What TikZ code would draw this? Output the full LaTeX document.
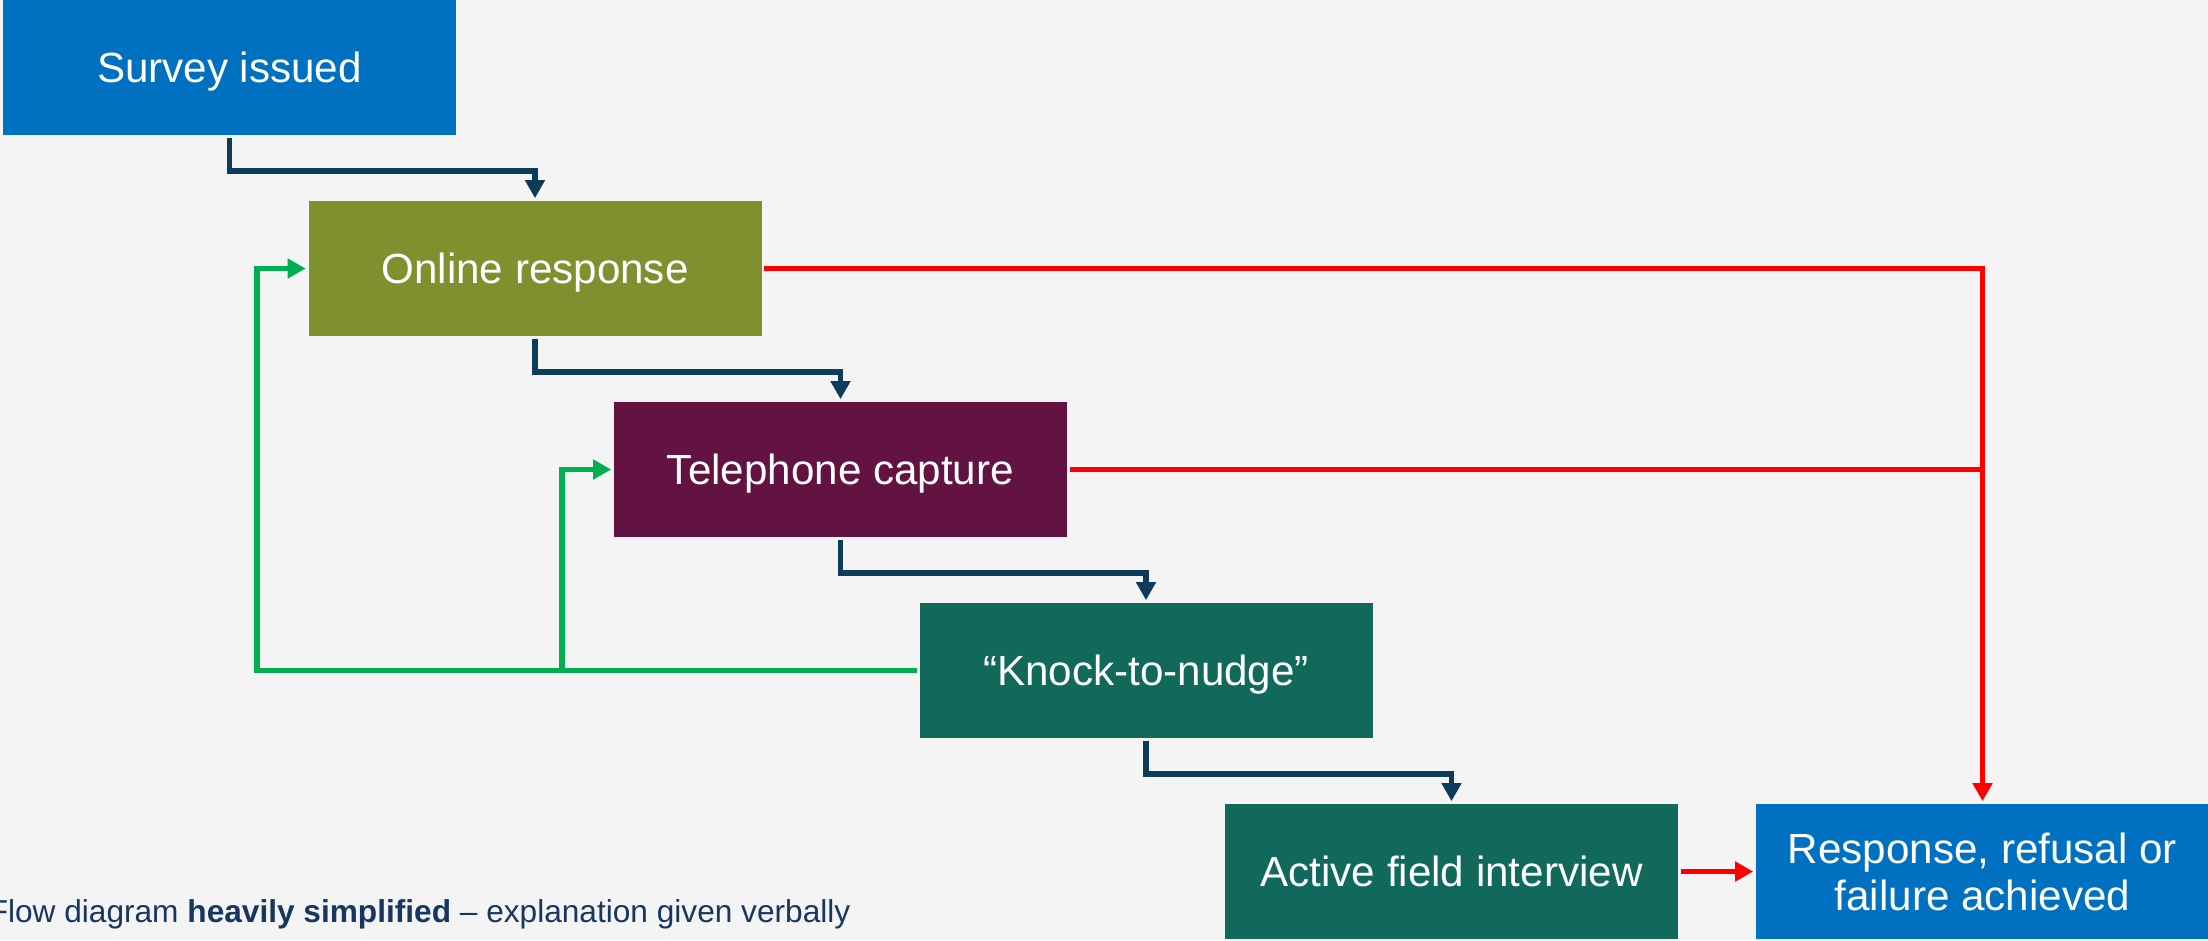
\documentclass[tikz,border=0pt]{standalone}
\usepackage{fontspec}
\setmainfont{Liberation Sans}
\usetikzlibrary{positioning,arrows.meta}
\definecolor{bgcol}{HTML}{F4F4F4}
\definecolor{bluebox}{HTML}{0070C0}
\definecolor{olivebox}{HTML}{7F902F}
\definecolor{plumbox}{HTML}{621341}
\definecolor{tealbox}{HTML}{10695A}
\definecolor{navyline}{HTML}{0F3B5A}
\definecolor{greenline}{HTML}{00B050}
\definecolor{redline}{HTML}{FF0000}
\definecolor{notecol}{HTML}{17375E}

\begin{document}
\begin{tikzpicture}[>={Triangle[length=1.8mm,width=1.9mm]}, line width=1.6pt, node distance=2.01cm and 3.055cm, on grid,
  box/.style={rectangle, minimum width=4.53cm, minimum height=1.35cm, inner sep=0pt, align=center, text depth=0pt, text=white, font=\fontsize{12}{13.5}\selectfont},
  step line/.style={->, draw=navyline},
  back line/.style={->, draw=greenline},
  end line/.style={draw=redline}]

    \useasboundingbox (0,0) rectangle (22.08,9.40);
    \fill[bgcol] (0,0) rectangle (22.08,9.40);

    \node[box, fill=bluebox] (survey) at (2.295,8.725) {Survey issued};
    \node[box, fill=olivebox] (online) [below right=of survey] {Online response};
    \node[box, fill=plumbox] (phone) [below right=of online] {Telephone capture};
    \node[box, fill=tealbox] (knock) [below right=of phone] {``Knock-to-nudge''};
    \node[box, fill=tealbox] (field) [below right=of knock] {Active field interview};
    \node[box, fill=bluebox] (result) [right=5.31cm of field] {Response, refusal or\\failure achieved};

    \node[anchor=base west, inner sep=0pt, text=notecol, font=\fontsize{9}{11}\selectfont] (note) at (-0.14,0.18) {Flow diagram \textbf{heavily simplified} -- explanation given verbally};

    \draw[step line] (survey.south) -- ++(0,-0.33) -| (online.north);
    \draw[step line] (online.south) -- ++(0,-0.33) -| (phone.north);
    \draw[step line] (phone.south) -- ++(0,-0.33) -| (knock.north);
    \draw[step line] (knock.south) -- ++(0,-0.33) -| (field.north);

    \draw[back line] (knock.west) -| ([xshift=-0.49cm]online.west) -- (online.west);
    \draw[back line] (knock.west) -| ([xshift=-0.49cm]phone.west) -- (phone.west);

    \draw[end line, ->] (online.east) -| (result.north);
    \draw[end line] (phone.east) -- (phone.east -| result.north);
    \draw[end line, ->] (field.east) -- (result.west);

\end{tikzpicture}
\end{document}
